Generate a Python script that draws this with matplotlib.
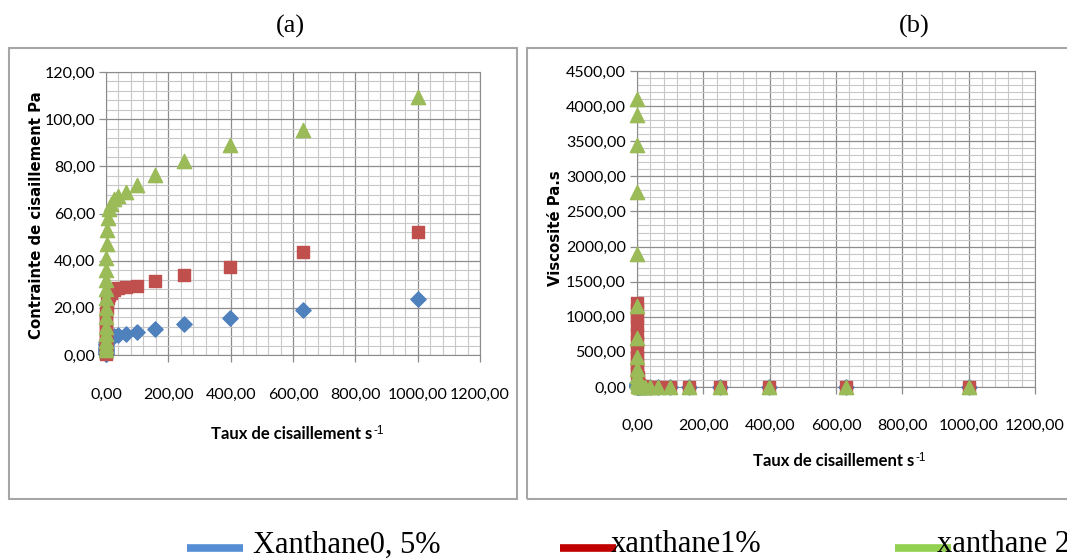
import numpy as np
import matplotlib
matplotlib.use("Agg")
import matplotlib.pyplot as plt
from matplotlib.ticker import MultipleLocator, FuncFormatter
from matplotlib.patches import Rectangle
from matplotlib.lines import Line2D

# shear rates (s-1), logarithmic ramp of the rheometer
rates = [0.01, 0.0158, 0.0251, 0.0398, 0.0631, 0.1, 0.158, 0.251, 0.398, 0.631,
         1.0, 1.58, 2.51, 3.98, 6.31, 10.0, 15.8, 25.1, 39.8, 63.1,
         100.0, 158.0, 251.0, 398.0, 631.0, 1000.0]

# (a) shear stress, Pa
stress_x05 = [0.3, 0.5, 0.8, 1.1, 1.5, 2.0, 2.5, 3.0, 3.6, 4.2,
              4.8, 5.4, 6.0, 6.5, 7.0, 7.3, 7.6, 7.9, 8.3, 8.9,
              9.9, 11.2, 13.0, 15.6, 19.1, 23.6]
stress_x1 = [0.5, 1.0, 2.0, 3.0, 4.5, 6.0, 8.0, 10.0, 12.0, 14.0,
             16.0, 18.0, 20.0, 22.0, 24.0, 25.5, 26.5, 27.5, 28.3, 28.7,
             29.4, 31.4, 33.9, 37.5, 43.5, 52.3]
stress_x2 = [2.0, 4.0, 6.0, 9.0, 12.0, 16.0, 20.0, 24.0, 28.0, 32.0,
             36.0, 41.0, 47.0, 53.0, 58.0, 62.0, 64.0, 66.0, 67.5, 69.3,
             72.1, 76.3, 82.3, 89.0, 95.4, 109.5]

# (b) viscosity, Pa.s
visc_x05 = [60, 45, 35, 28, 22, 18, 14, 11, 8.5, 6.5,
            4.8, 3.4, 2.4, 1.6, 1.1, 0.73, 0.48, 0.31, 0.21, 0.14,
            0.10, 0.07, 0.05, 0.04, 0.03, 0.024]
visc_x1 = [1200, 1100, 1000, 880, 760, 640, 530, 430, 340, 260,
           190, 140, 90, 55, 30, 16, 10, 5.5, 3.5, 2.3,
           1.5, 1.0, 0.68, 0.47, 0.34, 0.26]
visc_x2 = [4100, 3870, 3450, 2780, 1900, 1160, 700, 430, 250, 150,
           90, 55, 30, 15, 9, 6.2, 4.1, 2.6, 1.7, 1.1,
           0.72, 0.48, 0.33, 0.22, 0.15, 0.11]

labels = ["Xanthane0, 5%", "xanthane1%", "xanthane 2%"]
marker_colors = ["#4F81BD", "#C0504D", "#9BBB59"]
legend_colors = ["#558ED5", "#C00000", "#92D050"]
markers = ["D", "s", "^"]
msizes = [60, 85, 105]

calib = ["Lato", "Liberation Sans", "DejaVu Sans"]

W, H = 1067, 560
fig = plt.figure(figsize=(W / 100, H / 100), dpi=100)


def fr(x0, y0, x1, y1):
    return [x0 / W, 1 - y1 / H, (x1 - x0) / W, (y1 - y0) / H]


# panel frames
for (x0, y0, x1, y1) in [(9, 48, 517, 499), (527, 48, 1080, 499)]:
    fig.patches.append(Rectangle((x0 / W, 1 - y1 / H), (x1 - x0) / W, (y1 - y0) / H,
                                 transform=fig.transFigure, fill=False,
                                 edgecolor="#a6a6a6", lw=1.5))

comma = FuncFormatter(lambda v, p: f"{v:.2f}".replace(".", ","))


def style(ax, ymax, ymaj, ymin_, xpad):
    ax.set_xlim(0, 1200)
    ax.set_ylim(0, ymax)
    ax.xaxis.set_major_locator(MultipleLocator(200))
    ax.xaxis.set_minor_locator(MultipleLocator(40))
    ax.yaxis.set_major_locator(MultipleLocator(ymaj))
    ax.yaxis.set_minor_locator(MultipleLocator(ymin_))
    ax.xaxis.set_major_formatter(comma)
    ax.yaxis.set_major_formatter(comma)
    ax.grid(which="major", color="#8c8c8c", lw=0.9)
    ax.grid(which="minor", color="#c8c8c8", lw=0.8)
    ax.set_axisbelow(True)
    for s in ax.spines.values():
        s.set_color("#8c8c8c")
    ax.tick_params(which="minor", length=0)
    ax.tick_params(which="major", length=5, color="#8c8c8c", width=0.9)
    ax.tick_params(axis="x", pad=xpad)
    ax.tick_params(axis="y", pad=3)
    for t in ax.get_xticklabels() + ax.get_yticklabels():
        t.set_family(calib)
        t.set_fontsize(11.5)


def xlabel(xc, yc):
    main = fig.text(xc / W, 1 - yc / H, "Taux de cisaillement s", ha="center", va="center",
                    fontsize=12, fontweight="bold", family=calib)
    # superscript right after the main text
    fig.axes[-1].annotate("-1", xy=(1, 1), xycoords=main, xytext=(0.5, 1),
                          textcoords="offset points", fontsize=8.5, family="Liberation Sans",
                          va="top", ha="left", annotation_clip=False)


# (a) shear stress
axa = fig.add_axes(fr(106, 72, 480, 355))
for ys, c, m, s in zip([stress_x05, stress_x1, stress_x2], marker_colors, markers, msizes):
    axa.scatter(rates, ys, marker=m, s=s, color=c, edgecolor=c, clip_on=False, zorder=3)
style(axa, 120, 20, 4, 19)
fig.text(37 / W, 1 - 215 / H, "Contrainte de cisaillement Pa", rotation=90,
         ha="center", va="center", fontsize=10.7, fontweight="bold", family="DejaVu Sans")
xlabel(292, 434)

# (b) viscosity
axb = fig.add_axes(fr(637, 71, 1035, 387))
for ys, c, m, s in zip([visc_x05, visc_x1, visc_x2], marker_colors, markers, msizes):
    axb.scatter(rates, ys, marker=m, s=s, color=c, edgecolor=c, clip_on=False, zorder=3)
style(axb, 4500, 500, 100, 18)
fig.text(556 / W, 1 - 228 / H, "Viscosité Pa.s", rotation=90,
         ha="center", va="center", fontsize=10.7, fontweight="bold", family="DejaVu Sans")
xlabel(834, 461)

# panel titles
fig.text(290 / W, 1 - 26 / H, "(a)", ha="center", va="center", fontsize=19, family="Liberation Serif")
fig.text(914 / W, 1 - 26 / H, "(b)", ha="center", va="center", fontsize=19, family="Liberation Serif")

# legend below the panels
leg_line_x = [(187, 243), (560, 616), (895, 951)]
leg_text_x = [253, 611, 937]
for (x0, x1), tx, c, lab in zip(leg_line_x, leg_text_x, legend_colors, labels):
    fig.lines.append(Line2D([x0 / W, x1 / W], [1 - 548 / H, 1 - 548 / H], transform=fig.transFigure,
                            color=c, lw=5.5, solid_capstyle="butt"))
    fig.text(tx / W, 1 - 545 / H, lab, ha="left", va="center", fontsize=22, family="Liberation Serif")

fig.savefig("out.png", dpi=100)
